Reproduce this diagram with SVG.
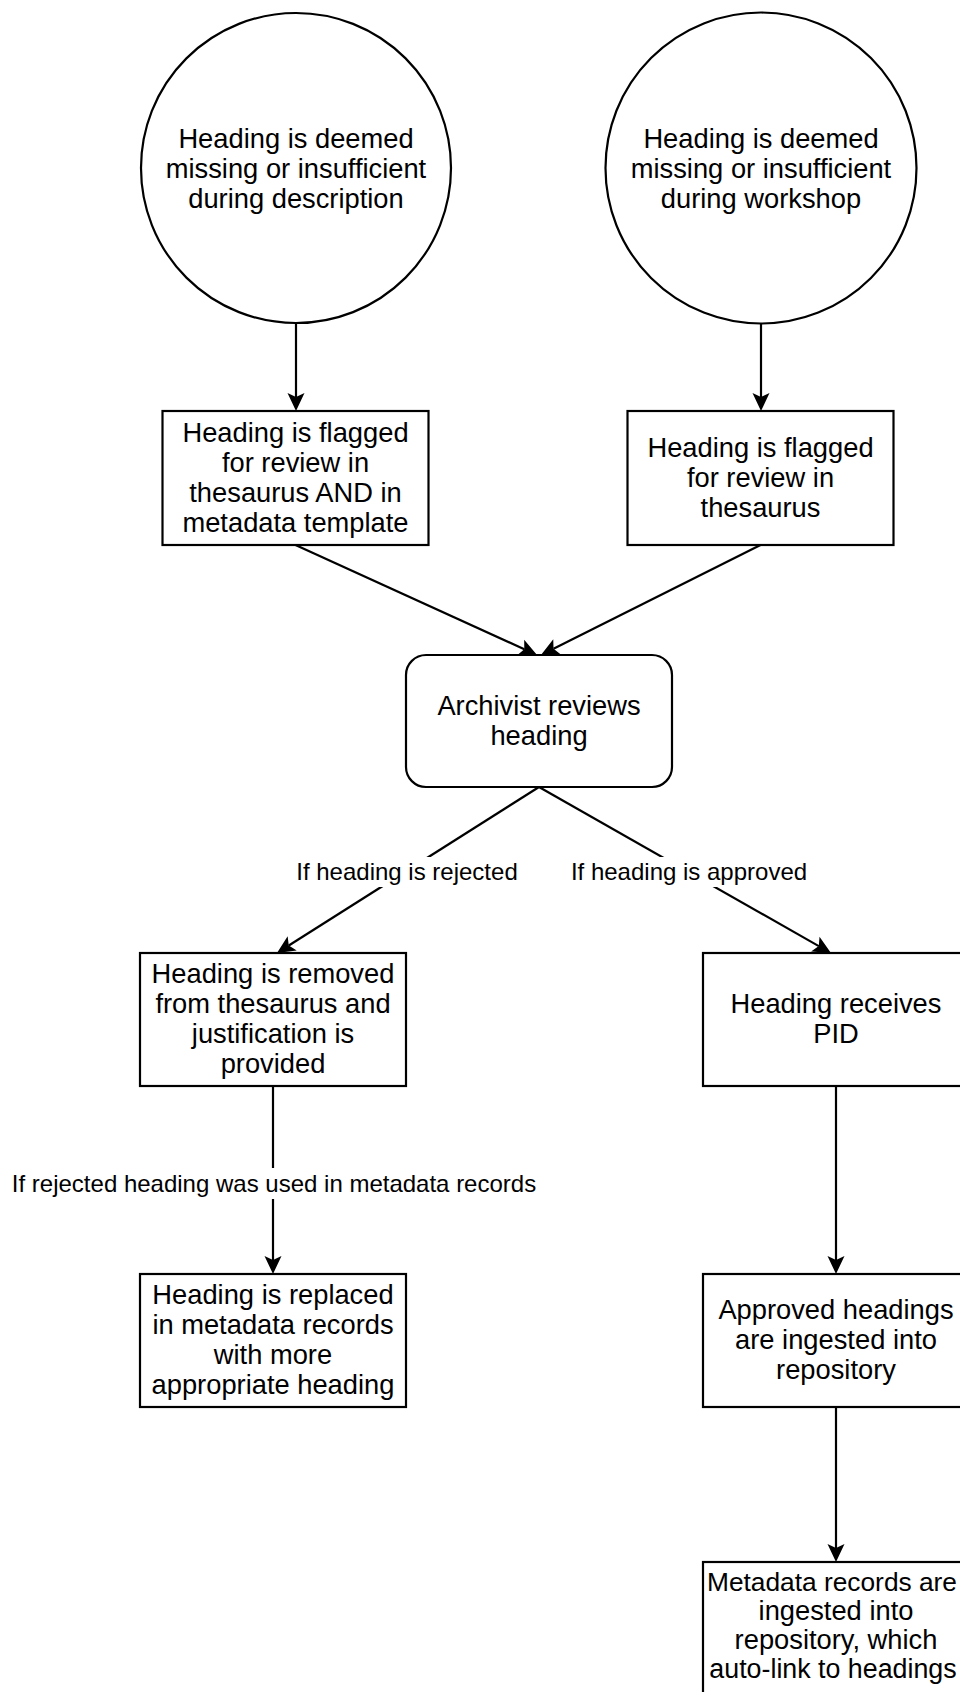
<svg xmlns="http://www.w3.org/2000/svg" width="960" height="1692" viewBox="0 0 960 1692">
<style>
.shape{fill:#ffffff;stroke:#000000;stroke-width:2.2}
.t{font-family:"Liberation Sans",Arial,Helvetica,sans-serif;font-size:27.3px;fill:#000000;text-anchor:middle}
.lbl{font-family:"Liberation Sans",Arial,Helvetica,sans-serif;font-size:24px;fill:#000000;text-anchor:middle}
.edge{fill:none;stroke:#000000;stroke-width:2.2}
.lblbg{fill:#ffffff;stroke:none}
</style>
<defs>
<marker id="arr" viewBox="-19 -10 20 20" refX="-14" refY="0" markerWidth="20" markerHeight="20" markerUnits="userSpaceOnUse" orient="auto">
<path d="M0,0 L-18,-8.5 L-14,0 L-18,8.5 Z" fill="#000000" stroke="none"/>
</marker>
</defs>
<rect x="0" y="0" width="960" height="1692" fill="#ffffff"/>

<g id="connectors">
<line class="edge" x1="296" y1="323" x2="296" y2="397" marker-end="url(#arr)"/>
<line class="edge" x1="761" y1="323" x2="761" y2="397" marker-end="url(#arr)"/>
<line class="edge" x1="295.5" y1="545" x2="524.3" y2="649.2" marker-end="url(#arr)"/>
<line class="edge" x1="760.5" y1="545" x2="553.5" y2="648.7" marker-end="url(#arr)"/>
<line class="edge" x1="539" y1="787" x2="288.8" y2="945.5" marker-end="url(#arr)"/>
<line class="edge" x1="539" y1="787" x2="818.8" y2="946.1" marker-end="url(#arr)"/>
<line class="edge" x1="273" y1="1086" x2="273" y2="1260" marker-end="url(#arr)"/>
<line class="edge" x1="836" y1="1086" x2="836" y2="1260" marker-end="url(#arr)"/>
<line class="edge" x1="836" y1="1407" x2="836" y2="1548" marker-end="url(#arr)"/>
<g id="label-rejected">
<rect class="lblbg" x="295" y="857" width="224" height="30"/>
<text class="lbl" x="407" y="880">If heading is rejected</text>
</g>
<g id="label-approved">
<rect class="lblbg" x="569" y="857" width="240" height="30"/>
<text class="lbl" x="689" y="880">If heading is approved</text>
</g>
<g id="label-used">
<rect class="lblbg" x="8" y="1168" width="532" height="31"/>
<text class="lbl" x="274" y="1192">If rejected heading was used in metadata records</text>
</g>
</g>

<g id="start-description">
<circle class="shape" cx="296" cy="168" r="155"/>
<text class="t" x="296" y="148">Heading is deemed</text>
<text class="t" x="296" y="178">missing or insufficient</text>
<text class="t" x="296" y="208">during description</text>
</g>

<g id="start-workshop">
<circle class="shape" cx="761" cy="168" r="155.5"/>
<text class="t" x="761" y="148">Heading is deemed</text>
<text class="t" x="761" y="178">missing or insufficient</text>
<text class="t" x="761" y="208">during workshop</text>
</g>

<g id="flag-both">
<rect class="shape" x="162.5" y="411" width="266" height="134"/>
<text class="t" x="295.5" y="442">Heading is flagged</text>
<text class="t" x="295.5" y="472">for review in</text>
<text class="t" x="295.5" y="502">thesaurus AND in</text>
<text class="t" x="295.5" y="532">metadata template</text>
</g>

<g id="flag-thesaurus">
<rect class="shape" x="627.5" y="411" width="266" height="134"/>
<text class="t" x="760.5" y="457">Heading is flagged</text>
<text class="t" x="760.5" y="487">for review in</text>
<text class="t" x="760.5" y="517">thesaurus</text>
</g>

<g id="review">
<rect class="shape" x="406" y="655" width="266" height="132" rx="20" ry="20"/>
<text class="t" x="539" y="715">Archivist reviews</text>
<text class="t" x="539" y="745">heading</text>
</g>

<g id="removed">
<rect class="shape" x="140" y="953" width="266" height="133"/>
<text class="t" x="273" y="983">Heading is removed</text>
<text class="t" x="273" y="1013">from thesaurus and</text>
<text class="t" x="273" y="1043">justification is</text>
<text class="t" x="273" y="1073">provided</text>
</g>

<g id="pid">
<rect class="shape" x="703" y="953" width="266" height="133"/>
<text class="t" x="836" y="1013">Heading receives</text>
<text class="t" x="836" y="1043">PID</text>
</g>

<g id="replaced">
<rect class="shape" x="140" y="1274" width="266" height="133"/>
<text class="t" x="273" y="1304">Heading is replaced</text>
<text class="t" x="273" y="1334">in metadata records</text>
<text class="t" x="273" y="1364">with more</text>
<text class="t" x="273" y="1394">appropriate heading</text>
</g>

<g id="ingested-headings">
<rect class="shape" x="703" y="1274" width="266" height="133"/>
<text class="t" x="836" y="1319">Approved headings</text>
<text class="t" x="836" y="1349">are ingested into</text>
<text class="t" x="836" y="1379">repository</text>
</g>

<g id="ingested-records">
<rect class="shape" x="703" y="1562" width="266" height="133"/>
<text class="t" x="832" y="1591" style="font-size:26.3px">Metadata records are</text>
<text class="t" x="836" y="1620">ingested into</text>
<text class="t" x="836" y="1649">repository, which</text>
<text class="t" x="833" y="1678" style="font-size:26.8px">auto-link to headings</text>
</g>
</svg>
